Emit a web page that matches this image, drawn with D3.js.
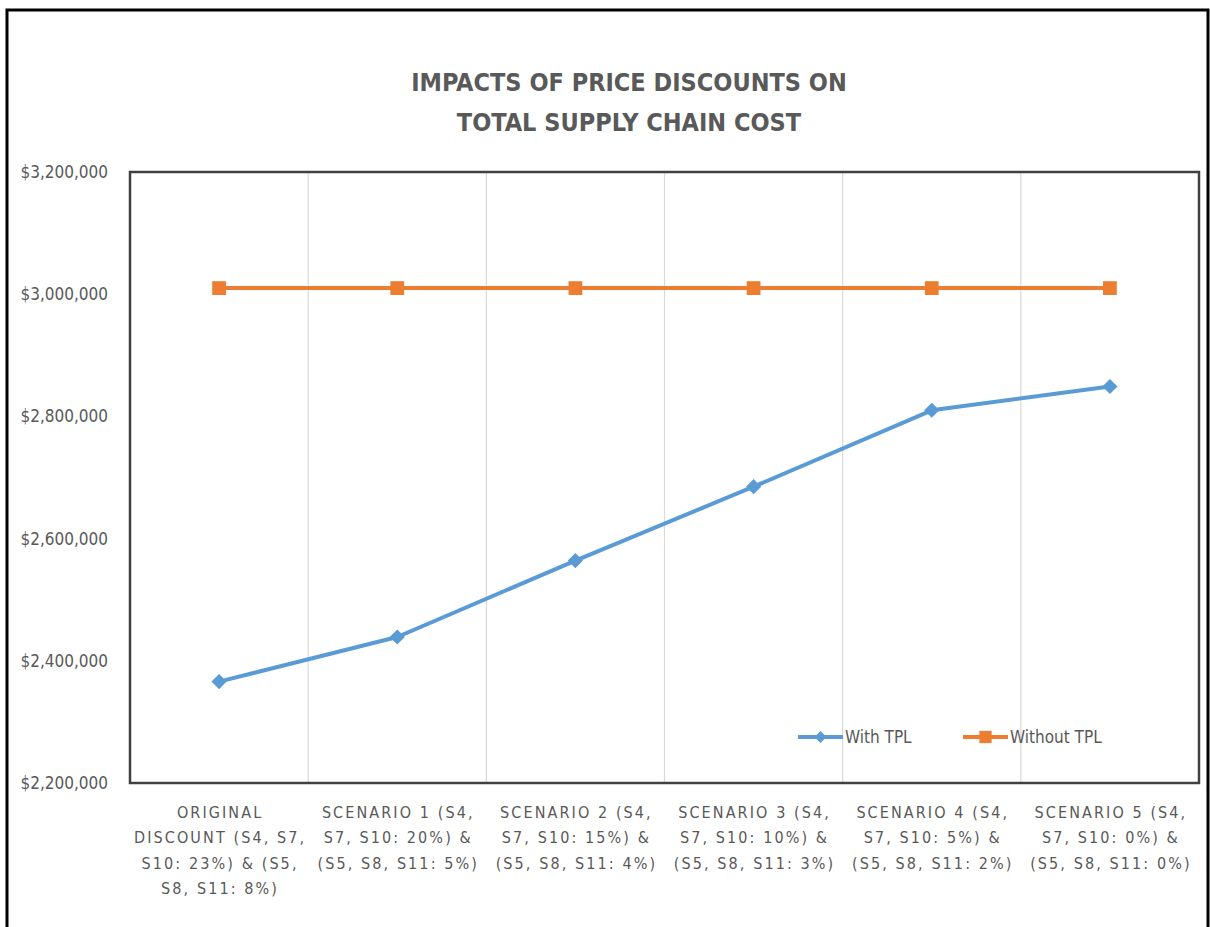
<!DOCTYPE html>
<html>
<head>
<meta charset="utf-8">
<script src="https://cdn.jsdelivr.net/npm/d3@7"></script>
<style>
  body { margin: 0; background: #fff; }
  svg text { font-family: "Liberation Sans Narrow", "DejaVu Sans Condensed", "Roboto", sans-serif; fill: #595959; }
</style>
</head>
<body>
<div id="chart"></div>
<script>
// Chart data
const categories = [
  ["ORIGINAL", "DISCOUNT (S4, S7,", "S10: 23%) & (S5,", "S8, S11: 8%)"],
  ["SCENARIO 1 (S4,", "S7, S10: 20%) &", "(S5, S8, S11: 5%)"],
  ["SCENARIO 2 (S4,", "S7, S10: 15%) &", "(S5, S8, S11: 4%)"],
  ["SCENARIO 3 (S4,", "S7, S10: 10%) &", "(S5, S8, S11: 3%)"],
  ["SCENARIO 4 (S4,", "S7, S10: 5%) &", "(S5, S8, S11: 2%)"],
  ["SCENARIO 5 (S4,", "S7, S10: 0%) &", "(S5, S8, S11: 0%)"]
];
const withTPL = [2366000, 2439000, 2564000, 2685000, 2810000, 2849000];
const withoutTPL = [3010000, 3010000, 3010000, 3010000, 3010000, 3010000];
const yTicks = [2200000, 2400000, 2600000, 2800000, 3000000, 3200000];
const seriesNames = ["With TPL", "Without TPL"];
const titleLines = ["IMPACTS OF PRICE DISCOUNTS ON", "TOTAL SUPPLY CHAIN COST"];

const W = 1210, H = 927;
const plot = { left: 130, top: 172, right: 1199, bottom: 783 };
const colors = { "With TPL": "#5b9bd5", "Without TPL": "#ed7d31" };

const svg = d3.select("#chart").append("svg")
  .attr("width", W)
  .attr("height", H);

// Outer frame (bottom edge runs off the picture)
svg.append("path")
  .attr("d", `M7,${H + 5} L7,10 L1208,10 L1208,${H + 5}`)
  .attr("fill", "none")
  .attr("stroke", "#000")
  .attr("stroke-width", 3);

// Title
svg.append("g").selectAll("text")
  .data(titleLines)
  .enter().append("text")
  .attr("x", 629)
  .attr("y", (d, i) => 91 + i * 40)
  .attr("text-anchor", "middle")
  .style("font-size", "25px")
  .style("font-weight", "bold")
  .text(d => d);

// Scales
const x = d3.scaleBand()
  .domain(d3.range(categories.length))
  .range([plot.left, plot.right]);

const y = d3.scaleLinear()
  .domain([2200000, 3200000])
  .range([plot.bottom, plot.top]);

// Vertical gridlines at category boundaries
svg.append("g").selectAll("line")
  .data(d3.range(1, categories.length))
  .enter().append("line")
  .attr("x1", d => x(d))
  .attr("x2", d => x(d))
  .attr("y1", plot.top)
  .attr("y2", plot.bottom)
  .attr("stroke", "#d9d9d9")
  .attr("stroke-width", 1.2);

// Plot frame
svg.append("rect")
  .attr("x", plot.left)
  .attr("y", plot.top)
  .attr("width", plot.right - plot.left)
  .attr("height", plot.bottom - plot.top)
  .attr("fill", "none")
  .attr("stroke", "#404040")
  .attr("stroke-width", 2.5);

// Y axis labels
const yAxis = svg.append("g")
  .attr("transform", "translate(108,0)")
  .call(d3.axisLeft(y).tickValues(yTicks).tickSize(0).tickPadding(0)
    .tickFormat(d => "$" + d3.format(",")(d)));
yAxis.select(".domain").remove();
yAxis.selectAll("text")
  .style("font-size", "17px")
  .style("font-family", null)
  .attr("fill", null);

// X axis labels (multi-line)
const xAxis = svg.append("g")
  .attr("transform", `translate(0,${plot.bottom})`)
  .call(d3.axisBottom(x).tickSize(0).tickFormat(""));
xAxis.select(".domain").remove();
xAxis.selectAll(".tick text").remove();
xAxis.selectAll(".tick").append("text")
  .attr("text-anchor", "middle")
  .style("font-size", "16px")
  .style("letter-spacing", "2.1px")
  .selectAll("tspan")
  .data(d => categories[d])
  .enter().append("tspan")
  .attr("x", 1)
  .attr("y", (d, i) => 35 + i * 25.3)
  .text(d => d);

// Lines and markers
const line = d3.line()
  .x((d, i) => x(i) + x.bandwidth() / 2)
  .y(d => y(d));

const series = [
  { name: "Without TPL", values: withoutTPL, marker: d3.symbolSquare, size: 190, rot: 0 },
  { name: "With TPL", values: withTPL, marker: d3.symbolSquare, size: 115, rot: 45 }
];

series.forEach(s => {
  svg.append("path")
    .datum(s.values)
    .attr("fill", "none")
    .attr("stroke", colors[s.name])
    .attr("stroke-width", 4)
    .attr("stroke-linejoin", "round")
    .attr("d", line);

  svg.append("g").selectAll("path")
    .data(s.values)
    .enter().append("path")
    .attr("transform", (d, i) => `translate(${x(i) + x.bandwidth() / 2},${y(d)}) rotate(${s.rot})`)
    .attr("d", d3.symbol().type(s.marker).size(s.size))
    .attr("fill", colors[s.name]);
});

// Legend
const legendItems = [
  { name: seriesNames[0], x: 798, size: 70, rot: 45 },
  { name: seriesNames[1], x: 963, size: 150, rot: 0 }
];
const legend = svg.append("g").attr("transform", "translate(0,737)");
const li = legend.selectAll("g")
  .data(legendItems)
  .enter().append("g")
  .attr("transform", d => `translate(${d.x},0)`);
li.append("line")
  .attr("x1", 0).attr("x2", 45)
  .attr("stroke", d => colors[d.name])
  .attr("stroke-width", 4);
li.append("path")
  .attr("transform", d => `translate(22.5,0) rotate(${d.rot})`)
  .attr("d", d => d3.symbol().type(d3.symbolSquare).size(d.size)())
  .attr("fill", d => colors[d.name]);
li.append("text")
  .attr("x", 47)
  .attr("dy", "0.35em")
  .style("font-size", "17px")
  .text(d => d.name);
</script>
</body>
</html>
